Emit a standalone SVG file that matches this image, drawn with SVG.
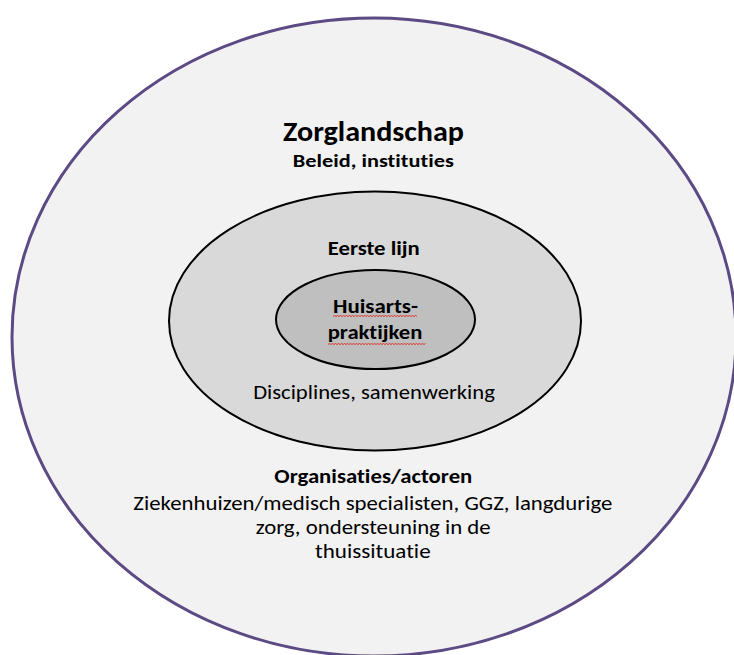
<svg xmlns="http://www.w3.org/2000/svg" width="734" height="655" viewBox="0 0 734 655">
<style>
.t{font-family:Carlito,"Open Sans","Liberation Sans",sans-serif;text-anchor:middle;fill:#000;font-variant-ligatures:none;font-feature-settings:"liga" 0}
.b{font-weight:bold}
.sq{fill:none;stroke:#e0302a;stroke-width:1}
</style>
<rect width="734" height="655" fill="#ffffff"/>
<g id="zorglandschap">
<ellipse cx="374" cy="337" rx="362" ry="319" fill="#f2f2f2" stroke="#5c4a85" stroke-width="3"/>
<text class="t b" x="373.5" y="141" font-size="29" textLength="181" lengthAdjust="spacingAndGlyphs">Zorglandschap</text>
<text class="t b" x="373.3" y="167.3" font-size="18" textLength="161" lengthAdjust="spacingAndGlyphs">Beleid, instituties</text>
<text class="t b" x="373.3" y="483.3" font-size="20" textLength="198" lengthAdjust="spacingAndGlyphs">Organisaties/actoren</text>
<text class="t" x="372.8" y="510" font-size="20" textLength="479" lengthAdjust="spacingAndGlyphs">Ziekenhuizen/medisch specialisten, GGZ, langdurige</text>
<text class="t" x="373.2" y="533.5" font-size="20" textLength="235" lengthAdjust="spacingAndGlyphs">zorg, ondersteuning in de</text>
<text class="t" x="372.8" y="557.5" font-size="20" textLength="115.7" lengthAdjust="spacingAndGlyphs">thuissituatie</text>
</g>
<g id="eerste-lijn">
<ellipse cx="375" cy="321" rx="206" ry="129.5" fill="#d9d9d9" stroke="#000" stroke-width="2"/>
<text class="t b" x="373.8" y="255" font-size="20.5" textLength="92" lengthAdjust="spacingAndGlyphs">Eerste lijn</text>
<text class="t" x="374" y="399.3" font-size="21" fill="#222" textLength="241.7" lengthAdjust="spacingAndGlyphs">Disciplines, samenwerking</text>
</g>
<g id="huisartspraktijken">
<ellipse cx="375.5" cy="319.5" rx="99.5" ry="49.5" fill="#bfbfbf" stroke="#000" stroke-width="2"/>
<text class="t b" x="375.5" y="312.7" font-size="21" textLength="85" lengthAdjust="spacingAndGlyphs">Huisarts-</text>
<text class="t b" x="375" y="339.3" font-size="21" textLength="94.6" lengthAdjust="spacingAndGlyphs">praktijken</text>
<path class="sq" d="M333 316.5 l1.5 -1 l1.5 1 l1.5 -1 l1.5 1 l1.5 -1 l1.5 1 l1.5 -1 l1.5 1 l1.5 -1 l1.5 1 l1.5 -1 l1.5 1 l1.5 -1 l1.5 1 l1.5 -1 l1.5 1 l1.5 -1 l1.5 1 l1.5 -1 l1.5 1 l1.5 -1 l1.5 1 l1.5 -1 l1.5 1 l1.5 -1 l1.5 1 l1.5 -1 l1.5 1 l1.5 -1 l1.5 1 l1.5 -1 l1.5 1 l1.5 -1 l1.5 1 l1.5 -1 l1.5 1 l1.5 -1 l1.5 1 l1.5 -1 l1.5 1 l1.5 -1 l1.5 1 l1.5 -1 l1.5 1 l1.5 -1 l1.5 1 l1.5 -1 l1.5 1 l1.5 -1 l1.5 1 l1.5 -1 l1.5 1 l1.5 -1 l1.5 1 l1.5 -1 l1.5 1"/>
<path class="sq" d="M328 344.5 l1.5 -1 l1.5 1 l1.5 -1 l1.5 1 l1.5 -1 l1.5 1 l1.5 -1 l1.5 1 l1.5 -1 l1.5 1 l1.5 -1 l1.5 1 l1.5 -1 l1.5 1 l1.5 -1 l1.5 1 l1.5 -1 l1.5 1 l1.5 -1 l1.5 1 l1.5 -1 l1.5 1 l1.5 -1 l1.5 1 l1.5 -1 l1.5 1 l1.5 -1 l1.5 1 l1.5 -1 l1.5 1 l1.5 -1 l1.5 1 l1.5 -1 l1.5 1 l1.5 -1 l1.5 1 l1.5 -1 l1.5 1 l1.5 -1 l1.5 1 l1.5 -1 l1.5 1 l1.5 -1 l1.5 1 l1.5 -1 l1.5 1 l1.5 -1 l1.5 1 l1.5 -1 l1.5 1 l1.5 -1 l1.5 1 l1.5 -1 l1.5 1 l1.5 -1 l1.5 1 l1.5 -1 l1.5 1 l1.5 -1 l1.5 1 l1.5 -1 l1.5 1 l1.5 -1 l1.5 1 l1.5 -1"/>
</g>
</svg>
